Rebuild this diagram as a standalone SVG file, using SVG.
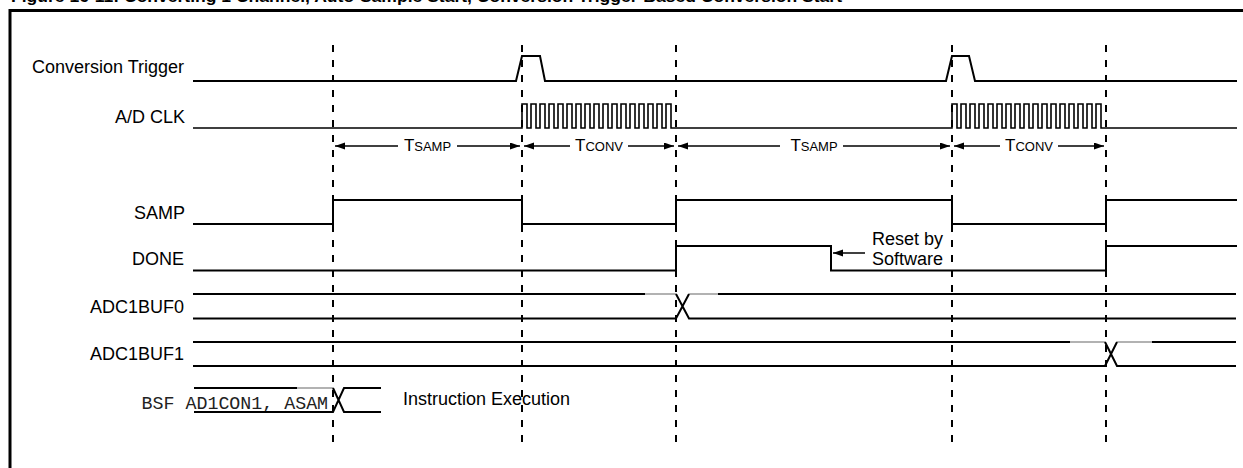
<svg xmlns="http://www.w3.org/2000/svg" width="1243" height="468" viewBox="0 0 1243 468">
<style>
  .lbl { font-family: "Liberation Sans", Arial, sans-serif; font-size: 18px; fill: #000; }
  .tl { font-family: "Liberation Sans", Arial, sans-serif; fill: #000; }
  .mono { font-family: "Liberation Mono", "Courier New", monospace; font-size: 18.3px; fill: #222; }
  .sig { fill: none; stroke: #000; stroke-width: 2; stroke-linejoin: miter; }
  .clk { fill: none; stroke: #000; stroke-width: 1.6; }
  .gray { fill: none; stroke: #999; stroke-width: 1.5; }
  .dash { stroke: #000; stroke-width: 2; stroke-dasharray: 7 8; }
  .arr { stroke: #000; stroke-width: 1.5; marker-end: url(#ah); }
</style>
<defs>
  <marker id="ah" markerUnits="userSpaceOnUse" markerWidth="11" markerHeight="8" refX="10" refY="3.5" orient="auto">
    <path d="M0,0 L10,3.5 L0,7 z" fill="#000"/>
  </marker>
</defs>
<rect width="1243" height="468" fill="#fff"/>
<text x="11" y="1.5" font-family="Liberation Sans, Arial, sans-serif" font-weight="bold" font-size="17.4" textLength="831" lengthAdjust="spacingAndGlyphs">Figure 16-11: Converting 1 Channel, Auto-Sample Start, Conversion Trigger-Based Conversion Start</text>
<path d="M10,470 V10.5 H1243" fill="none" stroke="#000" stroke-width="3"/>

<g id="conversion-trigger">
  <text class="lbl" x="184" y="73" text-anchor="end">Conversion Trigger</text>
  <path class="sig" d="M193,81 H516 L522,56 H540 L545,81 H946 L952,56 H969 L975,81 H1237"/>
</g>
<g id="ad-clk">
  <text class="lbl" x="185" y="123" text-anchor="end">A/D CLK</text>
  <path class="clk" d="M193,128 H522 V104 H527 V128 H531 V104 H536 V128 H540 V104 H545 V128 H549 V104 H554 V128 H558 V104 H563 V128 H567 V104 H572 V128 H576 V104 H581 V128 H585 V104 H590 V128 H594 V104 H599 V128 H603 V104 H608 V128 H612 V104 H617 V128 H621 V104 H626 V128 H630 V104 H635 V128 H639 V104 H644 V128 H648 V104 H653 V128 H657 V104 H662 V128 H666 V104 H671 V128 H952 V104 H957 V128 H961 V104 H966 V128 H970 V104 H975 V128 H979 V104 H984 V128 H988 V104 H993 V128 H997 V104 H1002 V128 H1006 V104 H1011 V128 H1015 V104 H1020 V128 H1024 V104 H1029 V128 H1033 V104 H1038 V128 H1042 V104 H1047 V128 H1051 V104 H1056 V128 H1060 V104 H1065 V128 H1069 V104 H1074 V128 H1078 V104 H1083 V128 H1087 V104 H1092 V128 H1096 V104 H1101 V128 H1237"/>
</g>
<g id="samp">
  <text class="lbl" x="185" y="218.5" text-anchor="end">SAMP</text>
  <path class="sig" d="M193,224 H333 V200 H522 V224 H676 V200 H952 V224 H1106 V200 H1237"/>
</g>
<g id="done">
  <text class="lbl" x="184" y="265" text-anchor="end">DONE</text>
  <path class="sig" d="M193,270.5 H676 V246 H831 V270.5 H1106 V246 H1237"/>
  <text class="lbl" text-anchor="end" font-size="17"><tspan x="943" y="244.5">Reset by</tspan><tspan x="943" y="264.5">Software</tspan></text>
</g>
<g id="adc1buf0">
  <text class="lbl" x="184" y="313" text-anchor="end">ADC1BUF0</text>
  <path class="sig" d="M193,294 H645"/>
  <path class="gray" d="M645,294 H676 M689,294 H718"/>
  <path class="sig" d="M718,294 H1236"/>
  <path class="sig" d="M193,318.5 H676 L689,294 M676,294 L689,318.5 H1236"/>
</g>
<g id="adc1buf1">
  <text class="lbl" x="184" y="360" text-anchor="end">ADC1BUF1</text>
  <path class="sig" d="M193,342 H1070"/>
  <path class="gray" d="M1070,342 H1105 M1117,342 H1152"/>
  <path class="sig" d="M1152,342 H1236"/>
  <path class="sig" d="M193,366 H1105 L1117,342 M1105,342 L1117,366 H1236"/>
</g>
<g id="instruction">
  <text class="mono" x="141.6" y="408.5">BSF AD1CON1, ASAM</text>
  <path class="sig" d="M194,388 H297"/>
  <path class="gray" d="M297,388 H333"/>
  <path class="sig" d="M194,412 H333 L344,388 H381 M333,388 L344,412 H381"/>
  <text class="lbl" x="403" y="405">Instruction Execution</text>
</g>
<g id="timing-labels">
  <text class="tl" x="427.5" y="151" text-anchor="middle"><tspan font-size="17">T</tspan><tspan font-size="13">SAMP</tspan></text>
  <text class="tl" x="599" y="151" text-anchor="middle"><tspan font-size="17">T</tspan><tspan font-size="13">CONV</tspan></text>
  <text class="tl" x="814" y="151" text-anchor="middle"><tspan font-size="17">T</tspan><tspan font-size="13">SAMP</tspan></text>
  <text class="tl" x="1029" y="151" text-anchor="middle"><tspan font-size="17">T</tspan><tspan font-size="13">CONV</tspan></text>
</g>
<g id="connectors">
  <line class="dash" x1="333" y1="45" x2="333" y2="445"/>
  <line class="dash" x1="522" y1="45" x2="522" y2="445"/>
  <line class="dash" x1="676" y1="45" x2="676" y2="445"/>
  <line class="dash" x1="952" y1="45" x2="952" y2="445"/>
  <line class="dash" x1="1106" y1="45" x2="1106" y2="445"/>
  <line class="arr" x1="398" y1="146" x2="335" y2="146"/>
  <line class="arr" x1="457" y1="146" x2="520" y2="146"/>
  <line class="arr" x1="570" y1="146" x2="524" y2="146"/>
  <line class="arr" x1="628" y1="146" x2="674" y2="146"/>
  <line class="arr" x1="780" y1="146" x2="678" y2="146"/>
  <line class="arr" x1="843" y1="146" x2="950" y2="146"/>
  <line class="arr" x1="1000" y1="146" x2="954" y2="146"/>
  <line class="arr" x1="1058" y1="146" x2="1104" y2="146"/>
  <line class="arr" x1="865" y1="253" x2="833" y2="253"/>
</g>
</svg>
